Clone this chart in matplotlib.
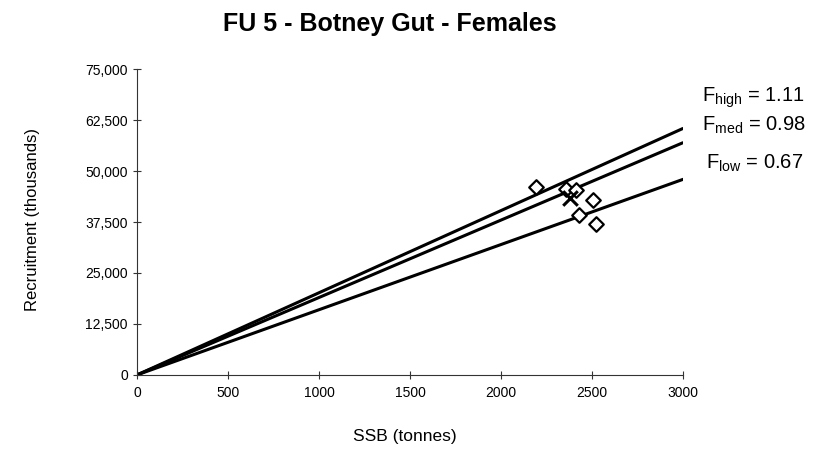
import numpy as np
import matplotlib.pyplot as plt

plt.rcParams.update({
    "font.family": ["Liberation Sans", "DejaVu Sans"],
    "mathtext.fontset": "custom",
    "mathtext.rm": "Liberation Sans",
    "mathtext.it": "Liberation Sans",
})

# --- Data ---
ssb = [2190, 2355, 2410, 2505, 2425, 2520]
recruits = [46000, 45600, 45300, 42800, 39300, 37000]
mean_ssb = [2380]
mean_rec = [43400]

ssb_line = [0, 3000]
rec_high = [0, 60500]
rec_med = [0, 57000]
rec_low = [0, 48000]

f_labels = [r"F$_{\mathregular{high}}$ = 1.11", r"F$_{\mathregular{med}}$ = 0.98", r"F$_{\mathregular{low}}$ = 0.67"]

xticks = [0, 500, 1000, 1500, 2000, 2500, 3000]
yticks = [0, 12500, 25000, 37500, 50000, 62500, 75000]

# --- Plot ---
fig = plt.figure(figsize=(8.13, 4.55), dpi=100)
ax = fig.add_axes([0.1685, 0.176, 0.672, 0.672])

for r in (rec_high, rec_med, rec_low):
    ax.plot(ssb_line, r, color="black", lw=2.2, solid_capstyle="butt", zorder=2)

ax.scatter(ssb, recruits, marker="D", s=55, facecolors="white", edgecolors="black",
           linewidths=1.6, zorder=3)
ax.scatter(mean_ssb, mean_rec, marker="x", s=110, color="black", linewidths=2.2, zorder=4)

ax.set_xlim(0, 3000)
ax.set_ylim(0, 75000)
ax.set_xticks(xticks)
ax.set_yticks(yticks)
ax.set_yticklabels([f"{v:,}" for v in yticks])
ax.tick_params(axis="both", direction="inout", length=6, width=0.8, labelsize=10, color="#333333")
ax.tick_params(axis="x", pad=5)

for side in ("top", "right"):
    ax.spines[side].set_visible(False)
for side in ("left", "bottom"):
    ax.spines[side].set_linewidth(0.8)
    ax.spines[side].set_color("#333333")

ax.set_xlabel("SSB (tonnes)", fontsize=12.5)
ax.set_ylabel("Recruitment (thousands)", fontsize=12)
ax.xaxis.set_label_coords(0.49, -0.203)
ax.yaxis.set_label_coords(-0.192, 0.507)
ax.xaxis.label.set_va("center")
ax.yaxis.label.set_va("center")

fig.text(0.48, 0.974, "FU 5 - Botney Gut - Females", fontsize=18, fontweight="bold",
         ha="center", va="top")

# F annotations on the right
fig.text(0.864, 0.785, f_labels[0], fontsize=14.5, va="center", ha="left")
fig.text(0.864, 0.725, f_labels[1], fontsize=14.5, va="center", ha="left")
fig.text(0.869, 0.642, f_labels[2], fontsize=14.5, va="center", ha="left")

fig.savefig("out.png", dpi=100)
